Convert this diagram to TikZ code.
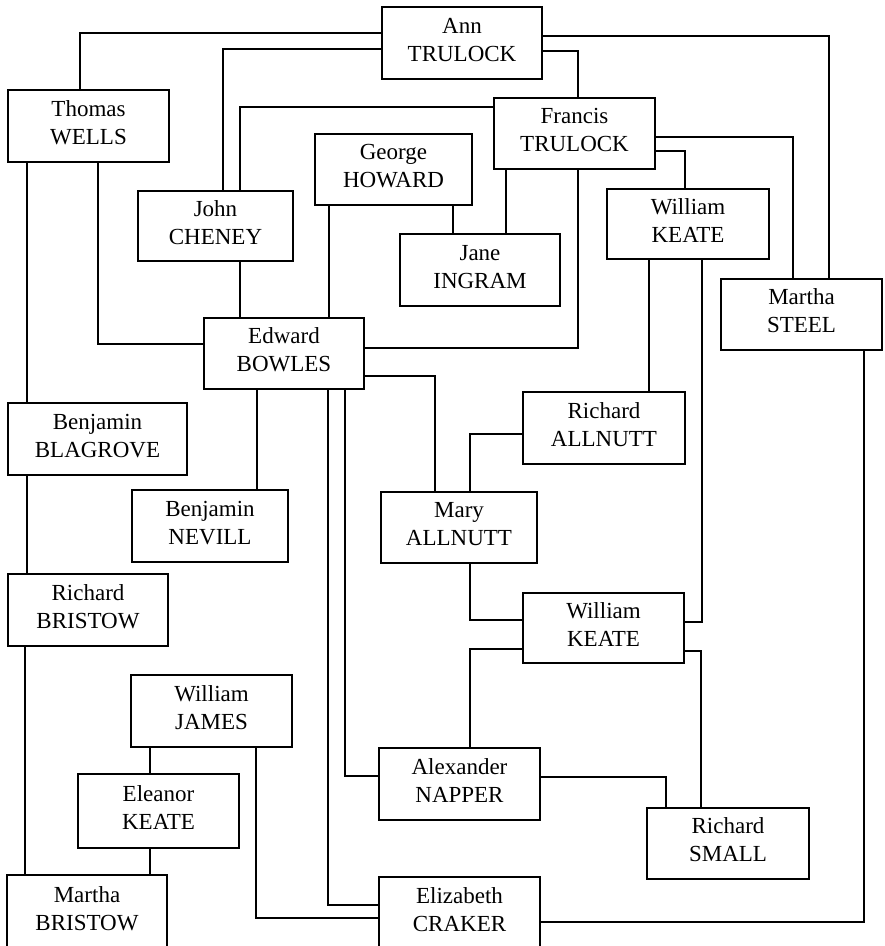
\documentclass[tikz,border=0pt]{standalone}
\usepackage{fontspec}
\setmainfont{Liberation Serif}
\begin{document}
\begin{tikzpicture}[x=1pt,y=-1pt,
  person/.style={draw, line width=1.3pt, minimum width=161pt, minimum height=71pt,
    inner sep=0pt, align=center, text depth=7pt,
    font=\fontsize{23}{28}\selectfont},
  link/.style={line width=1.3pt}]
\useasboundingbox (0,0) rectangle (885,946);
\clip (0,0) rectangle (885,946);

% people
\node[person, minimum width=160pt, minimum height=72pt] (ann) at (462,43) {Ann\\TRULOCK};
\node[person, minimum height=72pt] (thomas) at (88.5,126) {Thomas\\WELLS};
\node[person] (francis) at (574.5,133.5) {Francis\\TRULOCK};
\node[person, minimum width=157pt] (george) at (393.5,169.5) {George\\HOWARD};
\node[person, minimum width=155pt, minimum height=70pt] (john) at (215.5,226) {John\\CHENEY};
\node[person, minimum width=160pt, minimum height=72pt] (jane) at (480,270) {Jane\\INGRAM};
\node[person, minimum width=162pt, minimum height=70pt] (keateA) at (688,224) {William\\KEATE};
\node[person] (steel) at (801.5,314.5) {Martha\\STEEL};
\node[person, minimum width=160pt] (bowles) at (284,353.5) {Edward\\BOWLES};
\node[person, minimum width=162pt, minimum height=72pt] (rallnutt) at (604,428) {Richard\\ALLNUTT};
\node[person, minimum width=179pt, minimum height=72pt] (blagrove) at (97.5,439) {Benjamin\\BLAGROVE};
\node[person, minimum width=156pt, minimum height=72pt] (nevill) at (210,526) {Benjamin\\NEVILL};
\node[person, minimum width=156pt] (mary) at (459,527.5) {Mary\\ALLNUTT};
\node[person, minimum width=160pt, minimum height=72pt] (rbristow) at (88,610) {Richard\\BRISTOW};
\node[person, minimum height=70pt] (keateB) at (603.5,628) {William\\KEATE};
\node[person, minimum height=72pt] (james) at (211.5,711) {William\\JAMES};
\node[person, minimum height=72pt] (napper) at (459.5,784) {Alexander\\NAPPER};
\node[person, minimum height=74pt] (eleanor) at (158.5,811) {Eleanor\\KEATE};
\node[person, minimum width=162pt] (small) at (728,843.5) {Richard\\SMALL};
\node[person, minimum width=160pt, minimum height=74pt] (mbristow) at (87,912) {Martha\\BRISTOW};
\node[person, minimum height=72pt] (craker) at (459.5,913) {Elizabeth\\CRAKER};

% family links
\draw[link] (ann.west |- 0,33) -| (thomas.north -| 80,0);
\draw[link] (ann.west |- 0,49) -| (john.north -| 223,0);
\draw[link] (ann.east |- 0,36) -| (steel.north -| 829,0);
\draw[link] (ann.east |- 0,51) -| (francis.north -| 578,0);
\draw[link] (francis.west |- 0,107) -| (john.north -| 240,0);
\draw[link] (francis.east |- 0,137) -| (steel.north -| 793,0);
\draw[link] (francis.east |- 0,151) -| (keateA.north -| 685,0);
\draw[link] (francis.south -| 506,0) -- (jane.north -| 506,0);
\draw[link] (francis.south -| 578,0) |- (bowles.east |- 0,348);
\draw[link] (george.south -| 453,0) -- (jane.north -| 453,0);
\draw[link] (george.south -| 329,0) -- (bowles.north -| 329,0);
\draw[link] (john.south -| 240,0) -- (bowles.north -| 240,0);
\draw[link] (thomas.south -| 98,0) |- (bowles.west |- 0,344);
\draw[link] (thomas.south -| 27,0) -- (blagrove.north -| 27,0);
\draw[link] (blagrove.south -| 27,0) -- (rbristow.north -| 27,0);
\draw[link] (rbristow.south -| 25,0) -- (mbristow.north -| 25,0);
\draw[link] (bowles.south -| 257,0) -- (nevill.north -| 257,0);
\draw[link] (bowles.east |- 0,376) -| (mary.north -| 435,0);
\draw[link] (bowles.south -| 328,0) |- (craker.west |- 0,905);
\draw[link] (bowles.south -| 345,0) |- (napper.west |- 0,776);
\draw[link] (keateA.south -| 649,0) -- (rallnutt.north -| 649,0);
\draw[link] (keateA.south -| 702,0) |- (keateB.east |- 0,622);
\draw[link] (rallnutt.west |- 0,434) -| (mary.north -| 470,0);
\draw[link] (mary.south -| 470,0) |- (keateB.west |- 0,620);
\draw[link] (keateB.west |- 0,649) -| (napper.north -| 470,0);
\draw[link] (keateB.east |- 0,651) -| (small.north -| 701,0);
\draw[link] (napper.east |- 0,777) -| (small.north -| 666,0);
\draw[link] (steel.south -| 864,0) |- (craker.east |- 0,922);
\draw[link] (james.south -| 150,0) -- (eleanor.north -| 150,0);
\draw[link] (eleanor.south -| 150,0) -- (mbristow.north -| 150,0);
\draw[link] (james.south -| 256,0) |- (craker.west |- 0,918);
\end{tikzpicture}
\end{document}
